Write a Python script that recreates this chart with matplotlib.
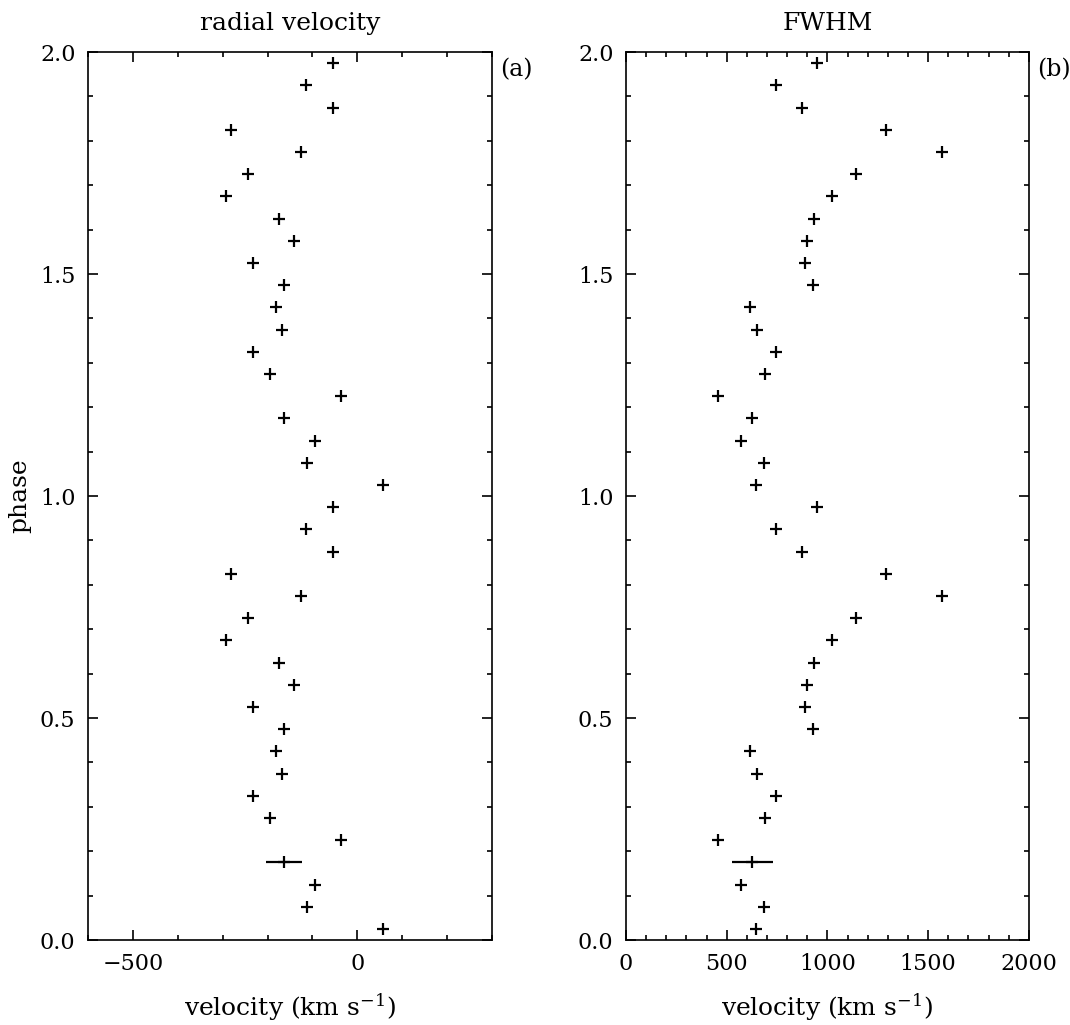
"""Radial velocity and FWHM versus orbital phase (two cycles plotted)"""

import numpy as np
import matplotlib
matplotlib.use('Agg')
import matplotlib.pyplot as plt
from matplotlib.ticker import MultipleLocator, FormatStrFormatter

plt.rcParams['font.family'] = ['DejaVu Serif']
plt.rcParams['mathtext.fontset'] = 'dejavuserif'

# phase bins (one cycle, shown twice)
phase = [0.025, 0.075, 0.125, 0.175, 0.225, 0.275, 0.325, 0.375, 0.425, 0.475,
         0.525, 0.575, 0.625, 0.675, 0.725, 0.775, 0.825, 0.875, 0.925, 0.975]

# radial velocity (km/s)
rv = [57, -113, -95, -164, -37, -194, -233, -168, -181, -164,
      -233, -141, -175, -292, -243, -125, -281, -55, -115, -54]

# FWHM (km/s)
fwhm = [646, 684, 569, 628, 459, 692, 745, 650, 618, 928,
        891, 898, 931, 1021, 1141, 1567, 1293, 872, 745, 946]

# typical error bar, drawn on the phase 0.175 point only
err_phase = 0.175
rv_err = 40
fwhm_err = 100

fig = plt.figure(figsize=(10.7, 10.25), dpi=100)
ax1 = fig.add_axes([0.0822, 0.0829, 0.3776, 0.8663])
ax2 = fig.add_axes([0.585, 0.0829, 0.3766, 0.8663])

ph2 = np.concatenate([phase, np.array(phase) + 1])


def style_axis(ax, xlim, tag, title):
    ax.set_ylim(0, 2)
    ax.set_xlim(*xlim)
    ax.yaxis.set_major_locator(MultipleLocator(0.5))
    ax.yaxis.set_minor_locator(MultipleLocator(0.1))
    ax.xaxis.set_major_locator(MultipleLocator(500))
    ax.xaxis.set_minor_locator(MultipleLocator(100))
    ax.tick_params(which='both', direction='in', top=True, right=True,
                   width=1.2, labelsize=16)
    ax.tick_params(which='major', length=7.5, pad=9)
    ax.tick_params(which='minor', length=3.8)
    ax.yaxis.set_major_formatter(FormatStrFormatter('%.1f'))
    for s in ax.spines.values():
        s.set_linewidth(1.2)
    ax.set_xlabel(r'velocity (km s$^{-1}$)', fontsize=18, labelpad=12)
    ax.set_title(title, fontsize=18, pad=16)
    ax.text(1.02, 0.98, tag, transform=ax.transAxes, fontsize=17,
            ha='left', va='center')


# 左图：径向速度
ax1.plot(np.concatenate([rv, rv]), ph2, '+', color='black', ms=8.5, mew=1.6)
ax1.errorbar([rv[phase.index(err_phase)]], [err_phase], xerr=rv_err,
             fmt='none', ecolor='black', elinewidth=1.6, capsize=0)
style_axis(ax1, (-600, 300), '(a)', 'radial velocity')
ax1.set_ylabel('phase', fontsize=18, labelpad=6)

# 右图：FWHM
ax2.plot(np.concatenate([fwhm, fwhm]), ph2, '+', color='black', ms=8.5, mew=1.6)
ax2.errorbar([fwhm[phase.index(err_phase)]], [err_phase], xerr=fwhm_err,
             fmt='none', ecolor='black', elinewidth=1.6, capsize=0)
style_axis(ax2, (0, 2000), '(b)', 'FWHM')

plt.savefig('out.png', dpi=100)
plt.close()
